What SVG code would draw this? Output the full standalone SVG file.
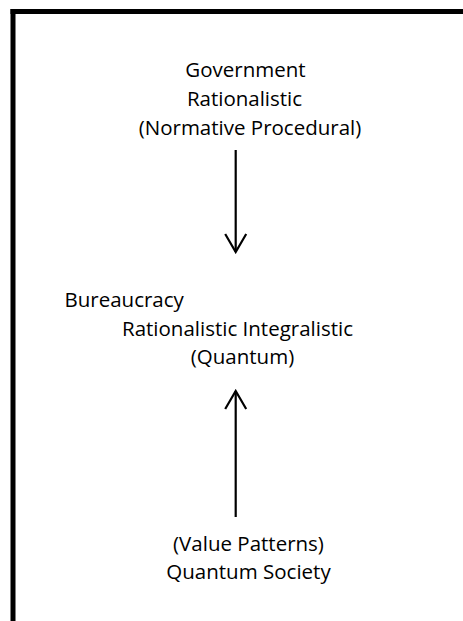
<svg xmlns="http://www.w3.org/2000/svg" width="463" height="621" viewBox="0 0 463 621">
<style>
text{font-family:"Open Sans","Noto Sans",sans-serif;font-size:20.5px;fill:#000}
.c{text-anchor:middle}
.conn{stroke:#000;stroke-width:2.2;fill:none}
</style>
<defs>
<marker id="open" markerWidth="21" markerHeight="24" refX="19" refY="12" orient="auto" markerUnits="userSpaceOnUse" viewBox="0 0 21 24">
<path d="M1,1.5 L19,12 L1,22.5" fill="none" stroke="#000" stroke-width="2.2"/>
</marker>
</defs>
<rect width="463" height="621" fill="#fff"/>
<g id="frame" fill="#000">
<rect x="10.5" y="9" width="452.5" height="5"/>
<rect x="10.5" y="9" width="5" height="612"/>
</g>
<g id="government">
<text class="c" x="245.5" y="77">Government</text>
<text class="c" x="244.5" y="106">Rationalistic</text>
<text class="c" x="250" y="135">(Normative Procedural)</text>
</g>
<g id="bureaucracy">
<text x="64.5" y="307">Bureaucracy</text>
<text class="c" x="237.5" y="336">Rationalistic Integralistic</text>
<text class="c" x="242.5" y="364">(Quantum)</text>
</g>
<g id="society">
<text class="c" x="248.5" y="551">(Value Patterns)</text>
<text class="c" x="248.5" y="579">Quantum Society</text>
</g>
<g id="connectors">
<line class="conn" x1="235.7" y1="150" x2="235.7" y2="252" marker-end="url(#open)"/>
<line class="conn" x1="235.7" y1="517" x2="235.7" y2="391" marker-end="url(#open)"/>
</g>
</svg>
